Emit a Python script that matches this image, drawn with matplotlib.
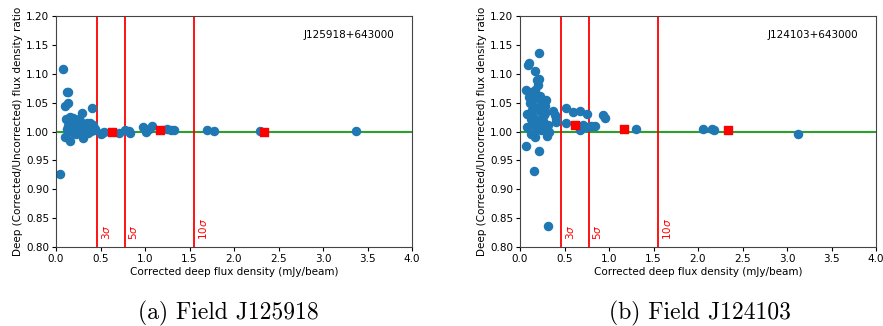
import matplotlib
matplotlib.use("Agg")
import matplotlib.pyplot as plt

# ---- data ----
sigma_x = [0.46, 0.77, 1.55]
sigma_labels = [r"$3\sigma$", r"$5\sigma$", r"$10\sigma$"]

# Field J125918
a_flux = [0.04, 0.08, 0.12, 0.13, 0.10, 0.13, 0.10, 0.16, 0.29, 0.41, 0.30,
          0.11, 0.13, 0.15, 0.17, 0.19, 0.21, 0.23, 0.25, 0.27, 0.12, 0.14,
          0.16, 0.18, 0.20, 0.22, 0.24, 0.26, 0.28, 0.31, 0.33, 0.35, 0.37,
          0.39, 0.42, 0.44, 0.14, 0.19, 0.23, 0.27, 0.32, 0.36, 0.40, 0.17,
          0.21, 0.25, 0.34, 0.38, 0.43, 0.22, 0.30,
          0.50, 0.52, 0.54, 0.71, 0.77, 0.83, 0.82, 0.98, 1.01, 1.08, 1.05,
          1.25, 1.29, 1.33, 1.70, 1.77, 2.29, 3.37]
a_ratio = [0.927, 1.108, 1.068, 1.069, 1.045, 1.049, 0.990, 0.983, 1.032, 1.041, 0.989,
           1.022, 1.018, 1.012, 1.008, 1.015, 1.020, 1.010, 1.005, 1.016, 1.004, 1.000,
           1.025, 1.002, 0.998, 1.013, 1.007, 1.021, 1.011, 1.009, 1.003, 1.014, 1.006,
           1.001, 1.012, 1.004, 1.010, 1.024, 0.996, 1.018, 1.000, 0.997, 1.008, 1.006,
           1.003, 0.999, 1.011, 1.015, 1.002, 1.017, 1.005,
           0.995, 0.997, 1.000, 0.998, 1.003, 0.998, 1.001, 1.008, 0.999, 1.009, 1.004,
           1.005, 1.003, 1.003, 1.003, 1.001, 1.001, 1.001]
a_bin_flux = [0.63, 1.17, 2.34]
a_bin_ratio = [1.000, 1.002, 1.000]

# Field J124103
b_flux = [0.07, 0.09, 0.10, 0.21, 0.17, 0.19, 0.21, 0.08, 0.07, 0.16, 0.21,
          0.32, 0.08, 0.12, 0.17, 0.30, 0.30, 0.10, 0.12, 0.14, 0.16, 0.18,
          0.20, 0.22, 0.24, 0.26, 0.28, 0.11, 0.13, 0.15, 0.17, 0.19, 0.23,
          0.25, 0.27, 0.29, 0.31, 0.14, 0.18, 0.22, 0.26, 0.33, 0.12, 0.20,
          0.24, 0.15, 0.28,
          0.37, 0.39, 0.41, 0.41, 0.52, 0.52, 0.60, 0.67, 0.75, 0.67, 0.71,
          0.75, 0.80, 0.84, 0.93, 0.95, 1.30, 2.06, 2.16, 2.18, 3.12]
b_ratio = [1.072, 1.115, 1.119, 1.136, 1.104, 1.090, 1.091, 1.031, 0.975, 0.931, 0.967,
           0.836, 1.007, 0.996, 0.990, 0.993, 0.998, 1.060, 1.055, 1.048, 1.065, 1.040,
           1.058, 1.035, 1.052, 1.030, 1.045, 1.050, 1.068, 1.025, 1.072, 1.020, 1.010,
           1.042, 1.028, 1.055, 1.012, 1.038, 1.005, 1.062, 1.018, 1.000, 1.022, 1.080,
           1.003, 1.015, 1.032,
           1.035, 1.028, 1.022, 1.016, 1.041, 1.015, 1.033, 1.035, 1.031, 1.002, 1.011,
           1.008, 1.010, 1.010, 1.028, 1.024, 1.004, 1.004, 1.004, 1.002, 0.996]
b_bin_flux = [0.62, 1.17, 2.34]
b_bin_ratio = [1.012, 1.005, 1.003]

panels = [
    ("J125918+643000", "(a) Field J125918", a_flux, a_ratio, a_bin_flux, a_bin_ratio),
    ("J124103+643000", "(b) Field J124103", b_flux, b_ratio, b_bin_flux, b_bin_ratio),
]

fig = plt.figure(figsize=(8.83, 3.26), dpi=100)
lefts = [56 / 883, 520 / 883]
caption_x = [228 / 883, 700 / 883]

for i, (name, caption, fx, fr, bx, br) in enumerate(panels):
    ax = fig.add_axes([lefts[i], 1 - 247 / 326, 356 / 883, 231 / 326])
    ax.axhline(1.0, color="#2ca02c", lw=1.5, zorder=1)
    for xs, lab in zip(sigma_x, sigma_labels):
        ax.axvline(xs, color="red", lw=1.3, zorder=1)
        ax.text(xs + 0.03, 0.812, lab, color="red", rotation=90,
                fontsize=7.5, ha="left", va="bottom")
    ax.scatter(fx, fr, s=34, color="#1f77b4", zorder=2)
    ax.scatter(bx, br, s=34, marker="s", color="red", zorder=3)
    ax.text(0.95, 0.94, name, transform=ax.transAxes, ha="right", va="top", fontsize=7.5)
    ax.set_xlim(0, 4.0)
    ax.set_ylim(0.80, 1.20)
    ax.set_xticks([0.0, 0.5, 1.0, 1.5, 2.0, 2.5, 3.0, 3.5, 4.0])
    ax.set_yticks([0.80, 0.85, 0.90, 0.95, 1.00, 1.05, 1.10, 1.15, 1.20])
    ax.tick_params(labelsize=7.5, length=3, pad=2)
    ax.set_xlabel("Corrected deep flux density (mJy/beam)", fontsize=7.5, labelpad=2)
    ax.set_ylabel("Deep (Corrected/Uncorrected) flux density ratio", fontsize=7.5, labelpad=2)
    for sp in ax.spines.values():
        sp.set_color("#444444")
    fig.text(caption_x[i], 1 - 313 / 326, caption, ha="center", va="center",
             fontsize=17, family="cmr10")

fig.savefig("out.png", dpi=100)
